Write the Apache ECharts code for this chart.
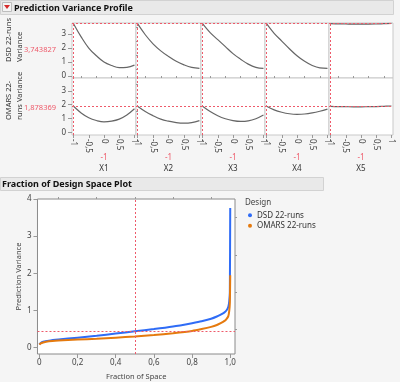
<!DOCTYPE html>
<html><head><meta charset="utf-8">
<script src="https://cdn.jsdelivr.net/npm/echarts@6/dist/echarts.min.js"></script>
<style>html,body{margin:0;padding:0;background:#f5f5f5}#c{width:400px;height:382px}</style>
</head><body><div id="c"></div>
<script>
// ---- data ----
const factors = ['X1','X2','X3','X4','X5'];
const profX = [-1,-0.75,-0.5,-0.25,0,0.25,0.5,0.75,1];
const profTicks = [-1,-0.5,0,0.5,1];
const profMinorX = [-0.75,-0.25,0.25,0.75];
const dsdX1 = [3.74,2.8,2.0,1.45,1.0,0.75,0.6,0.62,0.78];
const dsdX2 = [3.74,2.95,2.3,1.8,1.4,1.05,0.8,0.62,0.55];
const dsdX3 = [3.74,3.1,2.6,2.1,1.6,1.2,0.85,0.62,0.55];
const dsdX4 = [3.74,3.05,2.5,1.95,1.45,1.05,0.75,0.58,0.55];
const dsdX5 = [3.74,3.73,3.72,3.71,3.71,3.71,3.72,3.74,3.76];
const omarsX1 = [1.88,1.4,1.05,0.85,0.75,0.8,0.95,1.25,1.7];
const omarsX2 = [1.88,1.5,1.2,0.95,0.8,0.7,0.66,0.7,0.84];
const omarsX3 = [1.88,1.5,1.2,0.98,0.84,0.78,0.82,0.98,1.25];
const omarsX4 = [1.88,1.62,1.45,1.34,1.3,1.32,1.4,1.52,1.67];
const omarsX5 = [1.88,1.86,1.85,1.84,1.84,1.85,1.86,1.88,1.9];
const currentX = -1;
const dsdCurrent = 3.743827;
const omarsCurrent = 1.878369;
const profYTicks = [0,1,2,3];
const profMinorY = [0.5,1.5,2.5,3.5];
const rowLabels = [['DSD 22-runs','Variance'],['OMARS 22-','runs Variance']];

const fracX = [0,0.005,0.02,0.05,0.1,0.2,0.3,0.4,0.5,0.6,0.7,0.8,0.85,0.9,0.93,0.95,0.97,0.98,0.99,0.995,0.998,1.0];
const dsdFrac = [0.09,0.12,0.16,0.19,0.22,0.27,0.32,0.38,0.44,0.50,0.57,0.66,0.71,0.78,0.84,0.89,0.95,1.0,1.1,1.25,1.5,3.76];
const omarsFrac = [0.08,0.11,0.14,0.17,0.19,0.22,0.24,0.27,0.30,0.34,0.39,0.45,0.50,0.56,0.61,0.66,0.72,0.77,0.85,1.0,1.2,1.95];
const fracXTicks = [0,0.2,0.4,0.6,0.8,1.0];
const fracMinorX = [0.1,0.3,0.5,0.7,0.9];
const fracYTicks = [0,1,2,3,4];
const fracMinorY = [0.5,1.5,2.5,3.5];
const fracRefX = 0.5;
const fracRefY = 0.44;
const designNames = ['DSD 22-runs','OMARS 22-runs'];

// ---- layout ----
const FF = 'Noto Sans';
const RED = '#ee5a6a';
const colLeft = [72,136,201,265,329];
const colW = [64,65,64,64,64];
const rowTop = [23,78];
const rowH = [55,57];
const rowY = [[-0.14,3.79],[-0.2,3.93]];
const profRows = [[dsdX1,dsdX2,dsdX3,dsdX4,dsdX5],[omarsX1,omarsX2,omarsX3,omarsX4,omarsX5]];
const currents = [dsdCurrent, omarsCurrent];
const fmtComma = v => String(v).replace('.',',');
const f = (s,w) => (w?'bold ':'')+s+'px "'+FF+'"';
const TICK = {color:'#999'};

const grid=[], xAxis=[], yAxis=[], series=[];
function minorX(gi,min,max,vals){
  xAxis.push({type:'value',gridIndex:gi,min,max,axisLine:{show:false,onZero:false},splitLine:{show:false},
    axisLabel:{show:false},axisTick:{customValues:vals,length:2,lineStyle:TICK}});
}
function minorY(gi,min,max,vals){
  yAxis.push({type:'value',gridIndex:gi,min,max,axisLine:{show:false,onZero:false},splitLine:{show:false},
    axisLabel:{show:false},axisTick:{customValues:vals,length:2,lineStyle:TICK}});
}
for (let r=0;r<2;r++){
  for (let c=0;c<5;c++){
    const gi = r*5+c;
    grid.push({left:colLeft[c],top:rowTop[r],width:colW[c],height:rowH[r],show:true,
      backgroundColor:'#fff',borderColor:'#c9c9c9',borderWidth:1});
    xAxis.push({type:'value',gridIndex:gi,min:-1.05,max:1.05,
      axisLine:{show:false,onZero:false},splitLine:{show:false},
      axisTick:{show:r===1,customValues:profTicks,length:3,lineStyle:TICK},
      axisLabel:{show:r===1,customValues:profTicks,rotate:-90,fontSize:8,fontFamily:FF,color:'#444',margin:4,formatter:fmtComma}});
    yAxis.push({type:'value',gridIndex:gi,min:rowY[r][0],max:rowY[r][1],
      axisLine:{show:false,onZero:false},splitLine:{show:false},
      axisTick:{show:c===0,customValues:profYTicks,length:4,lineStyle:TICK},
      axisLabel:{show:c===0,customValues:profYTicks,fontSize:8,fontFamily:FF,color:'#444',margin:6}});
    series.push({type:'line',xAxisIndex:xAxis.length-1,yAxisIndex:yAxis.length-1,smooth:0.4,symbol:'none',
      lineStyle:{color:'#666',width:1.2},
      data:profX.map((x,i)=>[x,profRows[r][c][i]]),
      markLine:{silent:true,symbol:'none',label:{show:false},
        lineStyle:{color:RED,type:[2,2],width:1},
        data:[{xAxis:currentX},{yAxis:currents[r]}]}});
    if (r===1) minorX(gi,-1.05,1.05,profMinorX);
    if (c===0) minorY(gi,rowY[r][0],rowY[r][1],profMinorY);
  }
}
// fraction plot
const fg = 10;
grid.push({left:28,top:199,width:207,height:155,show:true,backgroundColor:'#fff',borderColor:'#8a8a8a',borderWidth:1});
xAxis.push({type:'value',gridIndex:fg,min:-0.01,max:1.025,
  axisLine:{show:false,onZero:false},splitLine:{show:false},
  axisTick:{customValues:fracXTicks,length:4,lineStyle:TICK},
  axisLabel:{customValues:fracXTicks,fontSize:8,fontFamily:FF,color:'#444',margin:5,
    formatter:v=>v===0?'0':v.toFixed(1).replace('.',',')},
  name:'Fraction of Space',nameLocation:'middle',nameGap:19,
  nameTextStyle:{fontSize:7.5,fontFamily:FF,color:'#444'}});
const fxi = xAxis.length-1;
yAxis.push({type:'value',gridIndex:fg,min:-0.17,max:4,
  axisLine:{show:false,onZero:false},splitLine:{show:false},
  axisTick:{customValues:fracYTicks,length:4,lineStyle:TICK},
  axisLabel:{customValues:fracYTicks,fontSize:8,fontFamily:FF,color:'#444',margin:6},
  name:'Prediction Variance',nameLocation:'middle',nameGap:15,
  nameTextStyle:{fontSize:7.5,fontFamily:FF,color:'#444'}});
const fyi = yAxis.length-1;
minorX(fg,-0.01,1.025,fracMinorX);
minorY(fg,-0.17,4,fracMinorY);
series.push({name:designNames[0],type:'line',xAxisIndex:fxi,yAxisIndex:fyi,symbol:'none',smooth:0.2,
  lineStyle:{color:'#2f6cf6',width:2},itemStyle:{color:'#2f6cf6'},
  data:fracX.map((x,i)=>[x,dsdFrac[i]]),
  markLine:{silent:true,symbol:'none',label:{show:false},lineStyle:{color:RED,type:[2,2],width:1},
    data:[{xAxis:fracRefX},{yAxis:fracRefY}]}});
series.push({name:designNames[1],type:'line',xAxisIndex:fxi,yAxisIndex:fyi,symbol:'none',smooth:0.2,
  lineStyle:{color:'#e57a0e',width:2},itemStyle:{color:'#e57a0e'},
  data:fracX.map((x,i)=>[x,omarsFrac[i]])});

const graphic = [
  {type:'rect',shape:{x:0.5,y:0.5,width:393,height:14},style:{fill:'#e9e9e9',stroke:'#d2d2d2'}},
  {type:'rect',shape:{x:2.5,y:2.5,width:9,height:9},style:{fill:'#f4f4f4',stroke:'#bdbdbd'}},
  {type:'polygon',shape:{points:[[4,5],[10,5],[7,9]]},style:{fill:'#d62b2b'}},
  {type:'text',x:14,y:8,style:{text:'Prediction Variance Profile',fill:'#111',font:f(9,1),textVerticalAlign:'middle'}},
  {type:'rect',shape:{x:0.5,y:177.5,width:323,height:13},style:{fill:'#e9e9e9',stroke:'#d2d2d2'}},
  {type:'text',x:2,y:184,style:{text:'Fraction of Design Space Plot',fill:'#111',font:f(9,1),textVerticalAlign:'middle'}},
  {type:'text',x:9,y:62,rotation:Math.PI/2,style:{text:rowLabels[0][0],fill:'#333',font:f(7.5),textAlign:'left',textVerticalAlign:'middle'}},
  {type:'text',x:20,y:62,rotation:Math.PI/2,style:{text:rowLabels[0][1],fill:'#333',font:f(7.5),textAlign:'left',textVerticalAlign:'middle'}},
  {type:'text',x:9,y:120,rotation:Math.PI/2,style:{text:rowLabels[1][0],fill:'#333',font:f(7.5),textAlign:'left',textVerticalAlign:'middle'}},
  {type:'text',x:20,y:120,rotation:Math.PI/2,style:{text:rowLabels[1][1],fill:'#333',font:f(7.5),textAlign:'left',textVerticalAlign:'middle'}},
  {type:'text',x:40,y:50,style:{text:fmtComma(dsdCurrent),fill:RED,font:f(7.5),textAlign:'center',textVerticalAlign:'middle'}},
  {type:'text',x:40,y:108,style:{text:fmtComma(omarsCurrent),fill:RED,font:f(7.5),textAlign:'center',textVerticalAlign:'middle'}},
  {type:'text',x:245,y:203,style:{text:'Design',fill:'#444',font:f(8),textVerticalAlign:'middle'}}
];
for (let c=0;c<5;c++){
  const cx = colLeft[c]+colW[c]/2;
  graphic.push({type:'text',x:cx,y:158,style:{text:fmtComma(currentX),fill:RED,font:f(8),textAlign:'center',textVerticalAlign:'middle'}});
  graphic.push({type:'text',x:cx,y:169,style:{text:factors[c],fill:'#333',font:f(8),textAlign:'center',textVerticalAlign:'middle'}});
}

const chart = echarts.init(document.getElementById('c'));
chart.setOption({
  animation:false,
  backgroundColor:'#f5f5f5',
  grid, xAxis, yAxis, series, graphic,
  legend:{data:designNames,orient:'vertical',left:248,top:210,icon:'circle',itemWidth:4,itemHeight:4,itemGap:0,padding:0,
    textStyle:{fontSize:8,lineHeight:10.5,fontFamily:FF,color:'#333'}}
});
</script></body></html>
